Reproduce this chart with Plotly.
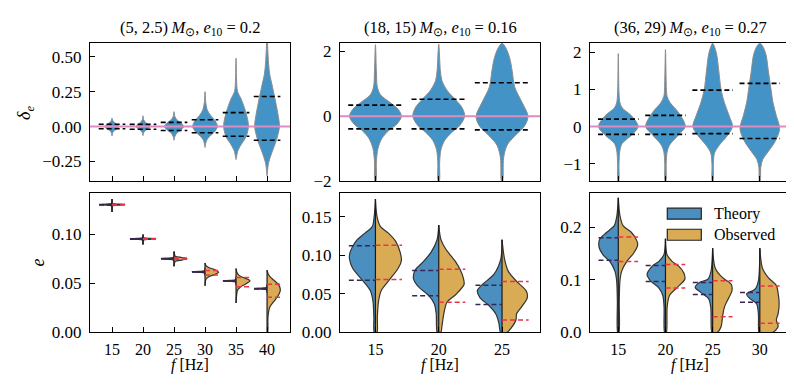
import plotly.graph_objects as go

W, H = 794, 388
FONT = "Liberation Serif, Times New Roman, serif"
FS = 16

BLUE_TOP = "#4393c6"
BLUE = "#4b8fc0"
GOLD = "#d9ab55"
EDGE_TOP = "#8c8c8c"
EDGE = "#333333"
PINK = "#dc8cc2"
THEORY_DASH = "#3a2452"
OBS_DASH = "#ec3348"

titles = [
    "(5, 2.5)\u2009<i>M</i><sub>⊙</sub>, <i>e</i><sub>10</sub> = 0.2",
    "(18, 15)\u2009<i>M</i><sub>⊙</sub>, <i>e</i><sub>10</sub> = 0.16",
    "(36, 29)\u2009<i>M</i><sub>⊙</sub>, <i>e</i><sub>10</sub> = 0.27",
]
freqs_a = ["15", "20", "25", "30", "35", "40"]
freqs_b = ["15", "20", "25"]
freqs_c = ["15", "20", "25", "30"]

# ---- top row: delta_e violins (y levels top->bottom, half widths in category units)
tl_ys = [
    [0.06, 0.045, 0.03, 0.015, 0.0, -0.015, -0.03, -0.045, -0.068],
    [0.077, 0.05, 0.03, 0.015, 0.0, -0.015, -0.03, -0.045, -0.065],
    [0.107, 0.07, 0.045, 0.025, 0.0, -0.025, -0.045, -0.07, -0.098],
    [0.25, 0.18, 0.12, 0.08, 0.04, 0.0, -0.04, -0.07, -0.1, -0.15],
    [0.49, 0.35, 0.25, 0.2, 0.135, 0.065, 0.0, -0.075, -0.12, -0.17, -0.237],
    [0.62, 0.45, 0.37, 0.3, 0.216, 0.15, 0.09, 0.0, -0.098, -0.19, -0.26, -0.354],
]
tl_ws = [
    [0.0, 0.02, 0.07, 0.17, 0.24, 0.17, 0.07, 0.02, 0.0],
    [0.0, 0.02, 0.08, 0.17, 0.23, 0.16, 0.07, 0.02, 0.0],
    [0.0, 0.03, 0.11, 0.23, 0.31, 0.22, 0.1, 0.03, 0.0],
    [0.0, 0.02, 0.07, 0.18, 0.33, 0.40, 0.3, 0.15, 0.05, 0.0],
    [0.0, 0.015, 0.05, 0.16, 0.27, 0.36, 0.4, 0.32, 0.19, 0.065, 0.0],
    [0.01, 0.05, 0.09, 0.16, 0.24, 0.3, 0.35, 0.4, 0.3, 0.15, 0.05, 0.0],
]
tl_q = [[0.017, -0.016], [0.016, -0.019], [0.03, -0.028],
        [0.049, -0.044], [0.10, -0.07], [0.216, -0.098]]

tm_ys = [
    [2.2, 1.4, 0.9, 0.66, 0.41, 0.21, 0.0, -0.24, -0.44, -0.69, -0.99, -1.4, -2.0],
    [2.22, 1.4, 1.1, 0.8, 0.5, 0.26, 0.0, -0.29, -0.49, -0.74, -1.03, -1.4, -2.0],
    [2.24, 2.1, 1.8, 1.4, 0.9, 0.41, 0.0, -0.29, -0.59, -0.89, -1.28, -2.0],
]
tm_ws = [
    [0.0, 0.015, 0.03, 0.08, 0.24, 0.36, 0.41, 0.34, 0.21, 0.1, 0.04, 0.015, 0.008],
    [0.0, 0.026, 0.05, 0.13, 0.27, 0.37, 0.41, 0.33, 0.21, 0.095, 0.035, 0.015, 0.008],
    [0.0, 0.06, 0.12, 0.16, 0.2, 0.32, 0.41, 0.36, 0.21, 0.08, 0.025, 0.008],
]
tm_q = [[0.34, -0.39], [0.52, -0.39], [1.03, -0.42]]

tr_ys = [
    [1.96, 0.9, 0.64, 0.5, 0.29, 0.0, -0.23, -0.45, -0.63, -1.0, -1.47],
    [2.07, 1.0, 0.81, 0.64, 0.37, 0.0, -0.23, -0.5, -0.68, -1.0, -1.47],
    [2.24, 2.16, 1.94, 1.5, 0.98, 0.64, 0.29, 0.0, -0.23, -0.5, -0.71, -1.0, -1.47],
    [2.24, 2.16, 1.94, 1.5, 1.07, 0.64, 0.29, -0.06, -0.41, -0.67, -0.89, -1.1, -1.47],
]
tr_ws = [
    [0.0, 0.015, 0.035, 0.085, 0.28, 0.42, 0.28, 0.085, 0.035, 0.015, 0.008],
    [0.0, 0.02, 0.035, 0.1, 0.28, 0.42, 0.27, 0.085, 0.035, 0.015, 0.008],
    [0.0, 0.035, 0.085, 0.13, 0.18, 0.25, 0.35, 0.42, 0.32, 0.14, 0.04, 0.015, 0.008],
    [0.0, 0.06, 0.13, 0.18, 0.23, 0.28, 0.35, 0.42, 0.32, 0.18, 0.06, 0.02, 0.008],
]
tr_q = [[0.2, -0.21], [0.3, -0.21], [0.98, -0.19], [1.16, -0.32]]

# ---- bottom row: e, split violins (theory left, observed right)
bl_th_ys = [
    [0.1358, 0.1312, 0.1305, 0.1300, 0.1295, 0.1288, 0.1226],
    [0.0997, 0.0963, 0.0956, 0.0951, 0.0946, 0.0939, 0.0895],
    [0.0822, 0.0762, 0.0755, 0.0749, 0.0743, 0.0736, 0.0673],
    [0.0660, 0.0628, 0.0621, 0.0616, 0.0611, 0.0604, 0.0570],
    [0.0570, 0.0536, 0.0529, 0.0524, 0.0519, 0.0512, 0.0480],
    [0.0490, 0.0456, 0.0449, 0.0444, 0.0439, 0.0432, 0.0400],
]
bl_th_ws = [
    [0.0, 0.02, 0.2, 0.39, 0.2, 0.02, 0.0],
    [0.0, 0.02, 0.2, 0.41, 0.2, 0.02, 0.0],
    [0.0, 0.02, 0.2, 0.41, 0.2, 0.02, 0.0],
    [0.0, 0.02, 0.2, 0.42, 0.2, 0.02, 0.0],
    [0.0, 0.02, 0.2, 0.42, 0.2, 0.02, 0.0],
    [0.0, 0.02, 0.2, 0.41, 0.2, 0.02, 0.0],
]
bl_th_q = [[0.1303, 0.1297], [0.0953, 0.0949], [0.0751, 0.0747],
           [0.0618, 0.0614], [0.0526, 0.0522], [0.0446, 0.0442]]
bl_ob_ys = [
    [0.1358, 0.1312, 0.1305, 0.1300, 0.1295, 0.1288, 0.1226],
    [0.0997, 0.0963, 0.0956, 0.0951, 0.0946, 0.0939, 0.0895],
    [0.0822, 0.0775, 0.0762, 0.0749, 0.0736, 0.0723, 0.0673],
    [0.0706, 0.0680, 0.0660, 0.0640, 0.0612, 0.0590, 0.0565, 0.0540, 0.0474],
    [0.065, 0.061, 0.058, 0.0555, 0.0525, 0.049, 0.0464, 0.043, 0.038, 0.0298],
    [0.0633, 0.060, 0.0573, 0.053, 0.049, 0.0434, 0.0385, 0.0325, 0.0258, 0.016, 0.0],
]
bl_ob_ws = [
    [0.0, 0.02, 0.22, 0.41, 0.22, 0.02, 0.0],
    [0.0, 0.02, 0.22, 0.41, 0.22, 0.02, 0.0],
    [0.0, 0.04, 0.25, 0.42, 0.25, 0.04, 0.0],
    [0.0, 0.03, 0.12, 0.3, 0.44, 0.32, 0.12, 0.03, 0.0],
    [0.0, 0.03, 0.1, 0.25, 0.45, 0.3, 0.15, 0.05, 0.02, 0.0],
    [0.0, 0.03, 0.08, 0.22, 0.36, 0.43, 0.38, 0.25, 0.09, 0.03, 0.02],
]
bl_ob_q = [[0.1304, 0.1296], [0.0955, 0.0947], [0.0757, 0.0743],
           [0.063, 0.0583], [0.0557, 0.0464], [0.049, 0.0358]]

bm_th_ys = [
    [0.173, 0.15, 0.137, 0.129, 0.118, 0.104, 0.095, 0.083, 0.067, 0.054, 0.041, 0.02, 0.0],
    [0.139, 0.12, 0.104, 0.091, 0.081, 0.07, 0.06, 0.047, 0.037, 0.024, 0.0],
    [0.12, 0.095, 0.075, 0.062, 0.054, 0.045, 0.035, 0.024, 0.012, 0.0],
]
bm_th_ws = [
    [0.0, 0.02, 0.05, 0.16, 0.31, 0.4, 0.41, 0.36, 0.2, 0.08, 0.04, 0.025, 0.02],
    [0.0, 0.026, 0.12, 0.25, 0.37, 0.4, 0.33, 0.15, 0.07, 0.04, 0.025],
    [0.0, 0.02, 0.13, 0.31, 0.39, 0.35, 0.21, 0.1, 0.05, 0.025],
]
bm_th_q = [[0.1122, 0.0674], [0.08, 0.0473], [0.061, 0.036]]
bm_ob_ys = [
    [0.173, 0.15, 0.137, 0.129, 0.118, 0.104, 0.093, 0.083, 0.067, 0.054, 0.041, 0.02, 0.0],
    [0.139, 0.12, 0.108, 0.091, 0.081, 0.07, 0.062, 0.049, 0.039, 0.024, 0.0075, 0.0],
    [0.12, 0.095, 0.079, 0.066, 0.054, 0.045, 0.033, 0.024, 0.016, 0.005, 0.0],
]
bm_ob_ws = [
    [0.0, 0.025, 0.08, 0.2, 0.32, 0.39, 0.41, 0.36, 0.21, 0.09, 0.05, 0.03, 0.025],
    [0.0, 0.035, 0.11, 0.27, 0.34, 0.39, 0.4, 0.27, 0.13, 0.08, 0.05, 0.035],
    [0.0, 0.04, 0.1, 0.23, 0.38, 0.4, 0.31, 0.23, 0.22, 0.14, 0.08],
]
bm_ob_q = [[0.113, 0.0683], [0.0817, 0.039], [0.066, 0.0159]]

br_th_ys = [
    [0.256, 0.222, 0.203, 0.19, 0.178, 0.163, 0.147, 0.135, 0.116, 0.098, 0.06, 0.0],
    [0.178, 0.147, 0.135, 0.126, 0.11, 0.098, 0.0855, 0.07, 0.048, 0.0],
    [0.16, 0.116, 0.101, 0.095, 0.0855, 0.076, 0.064, 0.048, 0.0],
    [0.16, 0.098, 0.082, 0.073, 0.064, 0.0545, 0.036, 0.0],
]
br_th_ws = [
    [0.0, 0.03, 0.085, 0.25, 0.39, 0.41, 0.32, 0.18, 0.07, 0.035, 0.02, 0.015],
    [0.0, 0.035, 0.14, 0.28, 0.39, 0.32, 0.15, 0.056, 0.03, 0.02],
    [0.0, 0.035, 0.1, 0.28, 0.37, 0.25, 0.085, 0.04, 0.02],
    [0.0, 0.03, 0.1, 0.28, 0.21, 0.07, 0.03, 0.02],
]
br_th_q = [[0.18, 0.137], [0.127, 0.0967], [0.0948, 0.0719], [0.0756, 0.057]]
br_ob_ys = [
    [0.256, 0.222, 0.203, 0.19, 0.175, 0.166, 0.15, 0.135, 0.116, 0.098, 0.06, 0.0],
    [0.178, 0.147, 0.135, 0.126, 0.113, 0.101, 0.0855, 0.07, 0.048, 0.0],
    [0.16, 0.122, 0.104, 0.092, 0.079, 0.067, 0.048, 0.03, 0.011, 0.0],
    [0.16, 0.122, 0.104, 0.089, 0.073, 0.055, 0.036, 0.0235, 0.011, 0.0],
]
br_ob_ws = [
    [0.0, 0.035, 0.1, 0.28, 0.39, 0.41, 0.32, 0.18, 0.07, 0.035, 0.02, 0.015],
    [0.0, 0.035, 0.14, 0.28, 0.39, 0.41, 0.25, 0.085, 0.035, 0.02],
    [0.0, 0.056, 0.21, 0.39, 0.41, 0.35, 0.25, 0.21, 0.18, 0.1],
    [0.0, 0.056, 0.18, 0.35, 0.39, 0.41, 0.39, 0.35, 0.39, 0.28],
]
br_ob_q = [[0.1815, 0.135], [0.129, 0.0843], [0.098, 0.0297], [0.088, 0.0173]]

# ---- layout geometry (pixels)
col_px = [(82, 282), (332, 532), (582, 782)]
row_px = [(35, 177.3), (189.5, 332.7)]
xranges = [[-0.71, 5.74], [-0.56, 2.6], [-0.6, 3.64]]
yranges = [[-0.393, 0.6], [-2.0, 2.25], [-1.47, 2.245],
           [0, 0.1418], [0, 0.1805], [0, 0.265]]
ydticks = [0.25, 2, 1, 0.05, 0.05, 0.1]
yfmts = [".2f", "d", "d", ".2f", ".2f", ".1f"]
cats = [freqs_a, freqs_b, freqs_c]

fig = go.Figure()


def ax(n):
    return ("x" if n == 1 else f"x{n}"), ("y" if n == 1 else f"y{n}")


def full_violin(n, pos, ys, ws):
    xa, ya = ax(n)
    xs = [pos + w for w in ws] + [pos - w for w in ws[::-1]]
    fig.add_trace(go.Scatter(
        x=xs, y=ys + ys[::-1], xaxis=xa, yaxis=ya, mode="lines",
        fill="toself", fillcolor=BLUE_TOP,
        line=dict(color=EDGE_TOP, width=1, shape="spline", smoothing=0.9),
        hoverinfo="skip", showlegend=False))


def half_violin(n, pos, ys, ws, sgn, color):
    xa, ya = ax(n)
    xs = [pos + sgn * w for w in ws]
    yy = list(ys)
    if ws[-1] > 0:
        xs.append(pos)
        yy.append(ys[-1])
    fig.add_trace(go.Scatter(
        x=xs, y=yy, xaxis=xa, yaxis=ya, mode="lines",
        fill="toself", fillcolor=color,
        line=dict(color=EDGE, width=1.2, shape="spline", smoothing=0.8),
        hoverinfo="skip", showlegend=False))


def dash(n, pos, y, x0, x1, color, width=1.5):
    xa, ya = ax(n)
    fig.add_trace(go.Scatter(
        x=[pos + x0, pos + x1], y=[y, y], xaxis=xa, yaxis=ya, mode="lines",
        line=dict(color=color, width=width, dash="5px,3px"),
        hoverinfo="skip", showlegend=False))


# top row
for n, (ys_l, ws_l, q_l) in enumerate([(tl_ys, tl_ws, tl_q), (tm_ys, tm_ws, tm_q),
                                        (tr_ys, tr_ws, tr_q)], start=1):
    for i, (ys, ws) in enumerate(zip(ys_l, ws_l)):
        full_violin(n, i, ys, ws)
    for i, qs in enumerate(q_l):
        for q in qs:
            dash(n, i, q, -0.43, 0.43, "black", 1.6)

# bottom row
bottom = [
    (bl_th_ys, bl_th_ws, bl_th_q, bl_ob_ys, bl_ob_ws, bl_ob_q),
    (bm_th_ys, bm_th_ws, bm_th_q, bm_ob_ys, bm_ob_ws, bm_ob_q),
    (br_th_ys, br_th_ws, br_th_q, br_ob_ys, br_ob_ws, br_ob_q),
]
for k, (tys, tws, tq, oys, ows, oq) in enumerate(bottom):
    n = k + 4
    xa, ya = ax(n)
    for i in range(len(tys)):
        half_violin(n, i, tys[i], tws[i], -1, BLUE)
        half_violin(n, i, oys[i], ows[i], 1, GOLD)
        top = max(tys[i][0], oys[i][0])
        bot = min(tys[i][-1], oys[i][-1])
        fig.add_trace(go.Scatter(
            x=[i, i], y=[top, bot], xaxis=xa, yaxis=ya, mode="lines",
            line=dict(color="#1a1a1a", width=1.2), hoverinfo="skip", showlegend=False))
    for i in range(len(tys)):
        for q in tq[i]:
            dash(n, i, q, -0.42, 0.0, THEORY_DASH)
        for q in oq[i]:
            dash(n, i, q, 0.0, 0.42, OBS_DASH)

# axes
layout = {}
for n in range(1, 7):
    r, c = (0, n - 1) if n <= 3 else (1, n - 4)
    x0, x1 = col_px[c]
    y0, y1 = row_px[r]
    sx = "" if n == 1 else str(n)
    layout[f"xaxis{sx}"] = dict(
        domain=[x0 / W, x1 / W], range=xranges[c], anchor=f"y{sx}",
        tickmode="array", tickvals=list(range(len(cats[c]))), ticktext=cats[c],
        showticklabels=(r == 1), ticks="inside", ticklen=5, tickwidth=1.2,
        tickcolor="black", showline=True, linecolor="black", linewidth=1.2,
        mirror=True, showgrid=False, zeroline=False, ticklabelstandoff=2,
        tickfont=dict(family=FONT, size=FS, color="black"))
    layout[f"yaxis{sx}"] = dict(
        domain=[1 - y1 / H, 1 - y0 / H], range=yranges[n - 1], anchor=f"x{sx}",
        dtick=ydticks[n - 1], tick0=0, tickformat=yfmts[n - 1],
        ticks="inside", ticklen=5, tickwidth=1.2, tickcolor="black",
        showline=True, linecolor="black", linewidth=1.2, mirror=True,
        showgrid=False, zeroline=False, ticklabelstandoff=4,
        tickfont=dict(family=FONT, size=17, color="black"))

shapes = []
for n in range(1, 4):
    sx = "" if n == 1 else str(n)
    shapes.append(dict(type="line", xref=f"x{sx} domain", yref=f"y{sx}",
                       x0=0, x1=1, y0=0, y1=0, line=dict(color=PINK, width=2)))

# legend drawn in the bottom-right panel
legend_items = ["Theory", "Observed"]
legend_colors = [BLUE, GOLD]
annotations = []
for j, (lab, colr) in enumerate(zip(legend_items, legend_colors)):
    top_px = 205 + j * 21.7
    shapes.append(dict(type="rect", xref="paper", yref="paper",
                       x0=659.3 / W, x1=693.3 / W, y0=1 - (top_px + 11.3) / H,
                       y1=1 - top_px / H, fillcolor=colr,
                       line=dict(color="#222222", width=1.2)))
    annotations.append(dict(x=704 / W, y=1 - (top_px + 5.6) / H, xref="paper", yref="paper",
                            text=lab, showarrow=False, xanchor="left", yanchor="middle",
                            font=dict(family=FONT, size=FS, color="black")))

for c in range(3):
    xc = (col_px[c][0] + col_px[c][1]) / 2 / W
    annotations.append(dict(x=xc, y=1 - 20 / H, xref="paper", yref="paper", text=titles[c],
                            showarrow=False, xanchor="center", yanchor="middle",
                            font=dict(family=FONT, size=16.5, color="black")))
    annotations.append(dict(x=xc, y=1 - 366 / H, xref="paper", yref="paper",
                            text="<i>f</i> [Hz]", showarrow=False, xanchor="center",
                            yanchor="middle", font=dict(family=FONT, size=FS, color="black")))

annotations.append(dict(x=18 / W, y=1 - 107 / H, xref="paper", yref="paper",
                        text="<i>δ<sub>e</sub></i>", textangle=-90, showarrow=False,
                        xanchor="center", yanchor="middle",
                        font=dict(family=FONT, size=18, color="black")))
annotations.append(dict(x=30 / W, y=1 - 261 / H, xref="paper", yref="paper",
                        text="<i>e</i>", textangle=-90, showarrow=False,
                        xanchor="center", yanchor="middle",
                        font=dict(family=FONT, size=18, color="black")))

fig.update_layout(
    width=W, height=H, margin=dict(l=0, r=0, t=0, b=0),
    paper_bgcolor="white", plot_bgcolor="white", showlegend=False,
    shapes=shapes, annotations=annotations, **layout)

fig.write_html("out.html")
